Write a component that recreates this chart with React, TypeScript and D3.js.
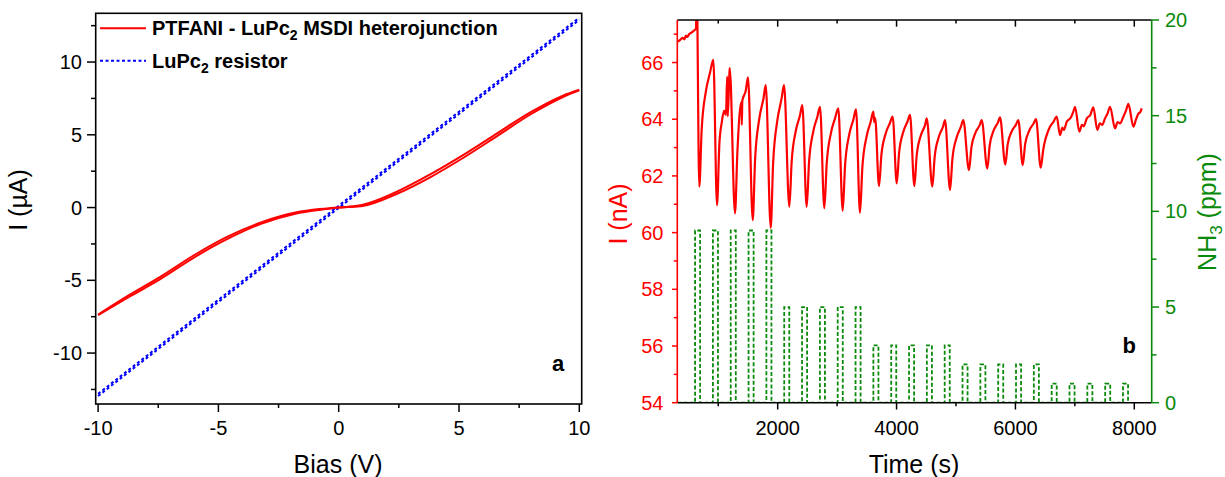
import React from "react";
import * as d3 from "d3";

// ---------- Panel a : I-V curves ----------
const biasV = [-10, -8.7, -7.4, -6, -4.6, -3.2, -1.8, -0.8, -0.4, 0, 0.4, 1, 2.4, 3.8, 5.2, 6.6, 8, 9.3, 10];
const heteroForward = [-7.4, -6.13, -4.9, -3.42, -2.14, -1.1, -0.42, -0.16, -0.08, 0, 0.03, 0.11, 0.93, 2.08, 3.44, 4.93, 6.43, 7.58, 8.05];
const heteroReverse = [-7.35, -6.0, -4.74, -3.26, -1.98, -1.0, -0.34, -0.1, -0.04, 0, 0.06, 0.2, 1.08, 2.28, 3.64, 5.12, 6.58, 7.68, 8.1];
const resistorBias = [-10, 10];
const resistorForward = [-12.95, 12.9];
const resistorReverse = [-12.8, 13.05];

const biasTicks = [-10, -5, 0, 5, 10];
const biasMinor = [-7.5, -2.5, 2.5, 7.5];
const currentATicks = [-10, -5, 0, 5, 10];
const currentAMinor = [-12.5, -7.5, -2.5, 2.5, 7.5, 12.5];

// ---------- Panel b : current vs time, NH3 pulses ----------
const traceTime = [
  311, 360, 400, 430, 455, 480, 510, 545, 575, 605, 626, 636, 681, 721, 791, 861,
  917, 979, 1019, 1060, 1100, 1130, 1150, 1160, 1185, 1193,
  1282, 1322, 1390, 1396, 1405, 1462, 1501,
  1580, 1620, 1690, 1760, 1799,
  1883, 1923, 1993, 2063, 2107,
  2196, 2236, 2306, 2376, 2414,
  2488, 2528, 2598, 2668, 2712,
  2785, 2825, 2895, 2965, 3020,
  3094, 3134, 3204, 3274, 3318,
  3385, 3425, 3495, 3565, 3609, 3625, 3640,
  3705, 3745, 3815, 3885, 3935,
  4003, 4043, 4113, 4183, 4227,
  4299, 4339, 4409, 4479, 4508,
  4602, 4642, 4712, 4782, 4816,
  4900, 4940, 5010, 5080, 5123,
  5219, 5259, 5329, 5399, 5433,
  5527, 5567, 5637, 5707, 5741,
  5830, 5870, 5940, 6010, 6049,
  6123, 6163, 6233, 6303, 6347,
  6426, 6470, 6500, 6545, 6584, 6640, 6695,
  6750, 6790, 6815, 6864, 6930, 6975, 7003,
  7075, 7120, 7150, 7201, 7260, 7311,
  7378, 7420, 7460, 7508, 7550, 7592,
  7676, 7720, 7760, 7817, 7860, 7900,
  7985, 8030, 8070, 8100, 8125,
];
const traceCurrent = [
  66.73, 66.8, 66.87, 66.82, 66.95, 66.9, 67.0, 67.05, 67.1, 67.15, 67.2, 69.0, 61.62, 63.63, 64.97, 65.64,
  66.09, 60.97, 63.14, 63.9, 64.3, 64.15, 65.5, 64.1, 65.5, 65.8,
  60.68, 62.84, 64.6, 63.8, 64.65, 65.0, 65.48,
  60.44, 62.58, 64.01, 64.72, 65.2,
  60.17, 62.43, 63.94, 64.7, 65.2,
  60.91, 62.53, 63.6, 64.14, 64.5,
  60.91, 62.5, 63.56, 64.09, 64.44,
  60.86, 62.44, 63.5, 64.03, 64.38,
  60.77, 62.38, 63.46, 63.99, 64.35,
  60.7, 62.31, 63.38, 63.91, 64.27, 63.9, 64.05,
  61.64, 62.74, 63.48, 63.85, 64.09,
  61.74, 62.82, 63.55, 63.91, 64.15,
  61.64, 62.72, 63.43, 63.79, 64.03,
  61.62, 62.68, 63.38, 63.74, 63.97,
  61.5, 62.61, 63.35, 63.72, 63.97,
  62.2, 63.0, 63.53, 63.79, 63.97,
  62.26, 63.07, 63.62, 63.89, 64.07,
  62.4, 63.11, 63.58, 63.81, 63.97,
  62.38, 63.11, 63.6, 63.84, 64.0,
  62.29, 62.95, 63.26, 63.55, 63.74, 63.91, 64.09,
  63.44, 63.7, 63.62, 63.91, 64.05, 64.27, 64.44,
  63.56, 63.8, 63.75, 64.03, 64.15, 64.42,
  63.62, 63.85, 63.8, 64.03, 64.2, 64.44,
  63.68, 63.9, 63.85, 64.09, 64.3, 64.54,
  63.74, 64.0, 64.2, 64.25, 64.38,
];

const pulseStart = [610, 910, 1210, 1510, 1810, 2110, 2410, 2710, 3010, 3310, 3610, 3910, 4210, 4510, 4810, 5110, 5410, 5710, 6010, 6310, 6610, 6910, 7210, 7510, 7810];
const pulseEnd = [695, 995, 1295, 1595, 1895, 2195, 2495, 2795, 3095, 3395, 3695, 3995, 4295, 4595, 4895, 5195, 5495, 5795, 6095, 6395, 6695, 6995, 7295, 7595, 7895];
const pulsePpm = [9, 9, 9, 9, 9, 5, 5, 5, 5, 5, 3, 3, 3, 3, 3, 2, 2, 2, 2, 2, 1, 1, 1, 1, 1];

const timeTicks = [2000, 4000, 6000, 8000];
const timeMinor = [1000, 3000, 5000, 7000];
const currentBTicks = [54, 56, 58, 60, 62, 64, 66];
const currentBMinor = [55, 57, 59, 61, 63, 65, 67];
const ppmTicks = [0, 5, 10, 15, 20];
const ppmMinor = [2.5, 7.5, 12.5, 17.5];

const FONT = "'Liberation Sans', Arial, sans-serif";
const RED = "#ff0000";
const BLUE = "#0000ff";
const GREEN = "#0a8a0a";

export default function App() {
  // panel a scales
  const xA = d3.scaleLinear().domain([-10.1, 10.1]).range([95.7, 581.7]);
  const yA = d3.scaleLinear().domain([-13.5, 13.35]).range([404, 13.3]);
  // panel b scales
  const xB = d3.scaleLinear().domain([311, 8293]).range([677.3, 1151.7]);
  const yB = d3.scaleLinear().domain([54, 67.5]).range([402.7, 20]);
  const yP = d3.scaleLinear().domain([0, 20]).range([402.7, 20]);

  const ivPath = (vals: number[]) =>
    d3
      .line<number>()
      .x((_, i) => xA(biasV[i]))
      .y((d) => yA(d))
      .curve(d3.curveMonotoneX)(vals) as string;
  const resLine = (vals: number[]) =>
    d3
      .line<number>()
      .x((_, i) => xA(resistorBias[i]))
      .y((d) => yA(d))(vals) as string;

  const tracePts: [number, number][] = traceTime.map((t, i) => [t, traceCurrent[i]]);
  const tracePath = d3
    .line<[number, number]>()
    .x((d) => xB(d[0]))
    .y((d) => yB(d[1]))
    .curve(d3.curveMonotoneX)(tracePts) as string;

  const pulsePts: [number, number][] = [[311, 0]];
  pulseStart.forEach((s, i) => {
    pulsePts.push([s, 0], [s, pulsePpm[i]], [pulseEnd[i], pulsePpm[i]], [pulseEnd[i], 0]);
  });
  const pulsePath = d3
    .line<[number, number]>()
    .x((d) => xB(d[0]))
    .y((d) => yP(d[1]))(pulsePts) as string;

  const tickFont = 20;
  const titleFont = 25;

  return (
    <svg
      width={1225}
      height={477}
      style={{ position: "absolute", left: 0, top: 0, background: "#fff" }}
      fontFamily={FONT}
    >
      <defs>
        <clipPath id="clipA">
          <rect x={95.7} y={13.3} width={486} height={390.7} />
        </clipPath>
        <clipPath id="clipB">
          <rect x={677.3} y={20} width={474.4} height={382.7} />
        </clipPath>
      </defs>
      <rect x={0} y={0} width={1225} height={477} fill="#fff" />

      {/* ---------------- Panel a ---------------- */}
      <g clipPath="url(#clipA)">
        <path d={resLine(resistorForward)} fill="none" stroke={BLUE} strokeWidth={2} strokeDasharray="3 2.5" />
        <path d={resLine(resistorReverse)} fill="none" stroke={BLUE} strokeWidth={2} strokeDasharray="3 2.5" />
        <path d={ivPath(heteroForward)} fill="none" stroke={RED} strokeWidth={2} />
        <path d={ivPath(heteroReverse)} fill="none" stroke={RED} strokeWidth={2} />
      </g>
      <rect x={95.7} y={13.3} width={486} height={390.7} fill="none" stroke="#000" strokeWidth={1.6} />
      {biasTicks.map((v) => (
        <g key={"bt" + v}>
          <line x1={xA(v)} x2={xA(v)} y1={404} y2={412} stroke="#000" strokeWidth={1.5} />
          <text x={xA(v)} y={435} textAnchor="middle" fontSize={tickFont} fill="#000">
            {v}
          </text>
        </g>
      ))}
      {biasMinor.map((v) => (
        <line key={"bm" + v} x1={xA(v)} x2={xA(v)} y1={404} y2={408} stroke="#000" strokeWidth={1.5} />
      ))}
      {currentATicks.map((v) => (
        <g key={"lt" + v}>
          <line x1={95.7} x2={87} y1={yA(v)} y2={yA(v)} stroke="#000" strokeWidth={1.5} />
          <text x={82} y={yA(v) + 7} textAnchor="end" fontSize={tickFont} fill="#000">
            {v}
          </text>
        </g>
      ))}
      {currentAMinor.map((v) => (
        <line key={"lm" + v} x1={95.7} x2={91} y1={yA(v)} y2={yA(v)} stroke="#000" strokeWidth={1.5} />
      ))}
      <text x={338} y={473} textAnchor="middle" fontSize={titleFont} fill="#000">
        Bias (V)
      </text>
      <text transform="translate(27,200) rotate(-90)" textAnchor="middle" fontSize={titleFont} fill="#000">
        I (µA)
      </text>
      {/* legend */}
      <line x1={100} x2={146} y1={28.3} y2={28.3} stroke={RED} strokeWidth={2} />
      <text x={152} y={35} fontSize={20} fontWeight="bold" fill="#000">
        PTFANI - LuPc
        <tspan fontSize={14} dy={5}>2</tspan>
        <tspan dy={-5}> MSDI heterojunction</tspan>
      </text>
      <line x1={100} x2={146} y1={60.7} y2={60.7} stroke={BLUE} strokeWidth={2} strokeDasharray="3 2.5" />
      <text x={152} y={67.5} fontSize={20} fontWeight="bold" fill="#000">
        LuPc
        <tspan fontSize={14} dy={5}>2</tspan>
        <tspan dy={-5}> resistor</tspan>
      </text>
      <text x={558} y={371} textAnchor="middle" fontSize={22} fontWeight="bold" fill="#000">
        a
      </text>

      {/* ---------------- Panel b ---------------- */}
      <g clipPath="url(#clipB)">
        <path d={pulsePath} fill="none" stroke={GREEN} strokeWidth={1.8} strokeDasharray="4 2.2" />
        <path d={tracePath} fill="none" stroke={RED} strokeWidth={2.2} strokeLinejoin="round" />
      </g>
      <line x1={677.3} x2={1151.7} y1={20} y2={20} stroke="#000" strokeWidth={1.6} />
      <line x1={677.3} x2={1151.7} y1={402.7} y2={402.7} stroke="#000" strokeWidth={1.6} />
      <line x1={677.3} x2={677.3} y1={20} y2={402.7} stroke={RED} strokeWidth={1.6} />
      <line x1={1151.7} x2={1151.7} y1={20} y2={402.7} stroke={GREEN} strokeWidth={1.6} />
      {timeTicks.map((v) => (
        <g key={"tt" + v}>
          <line x1={xB(v)} x2={xB(v)} y1={402.7} y2={409.5} stroke="#000" strokeWidth={1.5} />
          <line x1={xB(v)} x2={xB(v)} y1={20} y2={26.7} stroke="#000" strokeWidth={1.5} />
          <text x={xB(v)} y={435} textAnchor="middle" fontSize={tickFont} fill="#000">
            {v}
          </text>
        </g>
      ))}
      {timeMinor.map((v) => (
        <g key={"tm" + v}>
          <line x1={xB(v)} x2={xB(v)} y1={402.7} y2={406.3} stroke="#000" strokeWidth={1.5} />
          <line x1={xB(v)} x2={xB(v)} y1={20} y2={23.5} stroke="#000" strokeWidth={1.5} />
        </g>
      ))}
      {currentBTicks.map((v) => (
        <g key={"ct" + v}>
          <line x1={677.3} x2={672} y1={yB(v)} y2={yB(v)} stroke={RED} strokeWidth={1.5} />
          <text x={663.5} y={yB(v) + 7} textAnchor="end" fontSize={tickFont} fill={RED}>
            {v}
          </text>
        </g>
      ))}
      {currentBMinor.map((v) => (
        <line key={"cm" + v} x1={677.3} x2={673.8} y1={yB(v)} y2={yB(v)} stroke={RED} strokeWidth={1.5} />
      ))}
      {ppmTicks.map((v) => (
        <g key={"pt" + v}>
          <line x1={1151.7} x2={1159} y1={yP(v)} y2={yP(v)} stroke={GREEN} strokeWidth={1.5} />
          <text x={1165} y={yP(v) + 7} textAnchor="start" fontSize={tickFont} fill={GREEN}>
            {v}
          </text>
        </g>
      ))}
      {ppmMinor.map((v) => (
        <line key={"pm" + v} x1={1151.7} x2={1156.5} y1={yP(v)} y2={yP(v)} stroke={GREEN} strokeWidth={1.5} />
      ))}
      <text x={914} y={473} textAnchor="middle" fontSize={titleFont} fill="#000">
        Time (s)
      </text>
      <text transform="translate(627,214) rotate(-90)" textAnchor="middle" fontSize={titleFont} fill={RED}>
        I (nA)
      </text>
      <text transform="translate(1216,212) rotate(-90)" textAnchor="middle" fontSize={titleFont} fill={GREEN}>
        NH
        <tspan fontSize={17} dy={6}>3</tspan>
        <tspan dy={-6}> (ppm)</tspan>
      </text>
      <text x={1122.5} y={352.7} fontSize={22} fontWeight="bold" fill="#000">
        b
      </text>
    </svg>
  );
}
